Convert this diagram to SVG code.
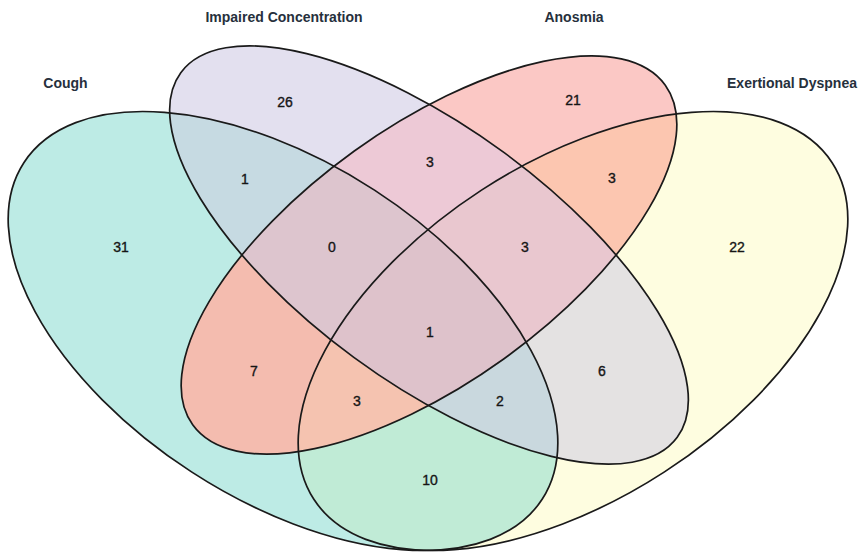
<svg xmlns="http://www.w3.org/2000/svg" xmlns:xlink="http://www.w3.org/1999/xlink" width="861" height="553" viewBox="0 0 861 553">
<style>
.o{fill:none;stroke:#1a1a1a;stroke-width:1.7}
.lbl{font-family:"Liberation Sans",Arial,sans-serif;font-size:14px;font-weight:bold;fill:#26303c;text-anchor:middle}
.n{font-family:"Liberation Sans",Arial,sans-serif;font-size:14px;fill:#151515;stroke:#151515;stroke-width:0.35;text-anchor:middle}
</style>
<defs>
<ellipse id="eC" cx="283" cy="331" rx="309" ry="168" transform="rotate(33 283 331)"/>
<ellipse id="eI" cx="429" cy="255" rx="308" ry="127" transform="rotate(36.3 429 255)"/>
<ellipse id="eA" cx="429" cy="255" rx="291" ry="128" transform="rotate(-35.7 429 255)"/>
<ellipse id="eE" cx="573" cy="331" rx="309" ry="168" transform="rotate(-33 573 331)"/>
<clipPath id="cC"><use xlink:href="#eC"/></clipPath>
<clipPath id="cI"><use xlink:href="#eI"/></clipPath>
<clipPath id="cA"><use xlink:href="#eA"/></clipPath>
<clipPath id="cE"><use xlink:href="#eE"/></clipPath>
</defs>
<rect width="861" height="553" fill="#ffffff"/>
<g id="regions">
<use xlink:href="#eC" fill="#BDEBE5"/>
<use xlink:href="#eI" fill="#E3E0EF"/>
<use xlink:href="#eA" fill="#FBC8C5"/>
<use xlink:href="#eE" fill="#FEFDE0"/>
<g clip-path="url(#cI)"><use xlink:href="#eC" fill="#C6DAE2"/></g>
<g clip-path="url(#cA)"><use xlink:href="#eC" fill="#F4BCAF"/></g>
<g clip-path="url(#cE)"><use xlink:href="#eC" fill="#C0EBD6"/></g>
<g clip-path="url(#cA)"><use xlink:href="#eI" fill="#EDC9D6"/></g>
<g clip-path="url(#cE)"><use xlink:href="#eI" fill="#E4E2E2"/></g>
<g clip-path="url(#cE)"><use xlink:href="#eA" fill="#FCC6B0"/></g>
<g clip-path="url(#cI)"><g clip-path="url(#cA)"><use xlink:href="#eC" fill="#DDC5CE"/></g></g>
<g clip-path="url(#cI)"><g clip-path="url(#cE)"><use xlink:href="#eC" fill="#C9D8DE"/></g></g>
<g clip-path="url(#cA)"><g clip-path="url(#cE)"><use xlink:href="#eC" fill="#F5C3B0"/></g></g>
<g clip-path="url(#cA)"><g clip-path="url(#cE)"><use xlink:href="#eI" fill="#E9C7CF"/></g></g>
<g clip-path="url(#cI)"><g clip-path="url(#cA)"><g clip-path="url(#cE)"><use xlink:href="#eC" fill="#DEC2CB"/></g></g></g>
</g>
<g id="set-cough"><use xlink:href="#eC" class="o"/><text class="lbl" x="65.5" y="88">Cough</text></g>
<g id="set-impaired"><use xlink:href="#eI" class="o"/><text class="lbl" x="284" y="22">Impaired Concentration</text></g>
<g id="set-anosmia"><use xlink:href="#eA" class="o"/><text class="lbl" x="574" y="22">Anosmia</text></g>
<g id="set-dyspnea"><use xlink:href="#eE" class="o"/><text class="lbl" x="792" y="88">Exertional Dyspnea</text></g>
<g id="counts">
<text class="n" x="285" y="107">26</text>
<text class="n" x="573" y="105">21</text>
<text class="n" x="245" y="184">1</text>
<text class="n" x="430" y="167">3</text>
<text class="n" x="612" y="183">3</text>
<text class="n" x="121" y="252">31</text>
<text class="n" x="332" y="252">0</text>
<text class="n" x="525" y="252">3</text>
<text class="n" x="737" y="252">22</text>
<text class="n" x="430" y="337">1</text>
<text class="n" x="254" y="376">7</text>
<text class="n" x="602" y="376">6</text>
<text class="n" x="357" y="406">3</text>
<text class="n" x="500" y="406">2</text>
<text class="n" x="430" y="485">10</text>
</g>
</svg>
